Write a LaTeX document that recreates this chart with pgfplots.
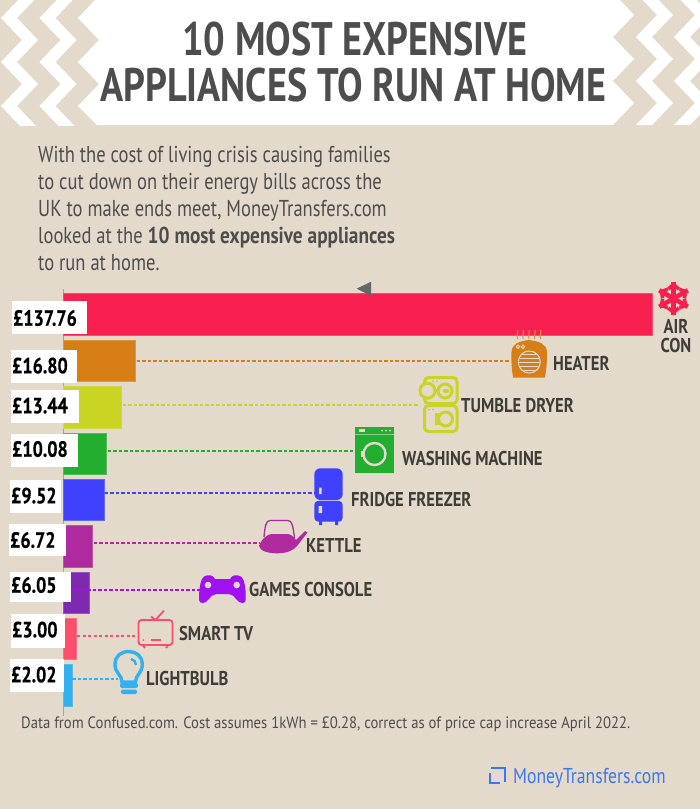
\documentclass[border=0pt]{standalone}
\usepackage{pgfplots}
\pgfplotsset{compat=1.18}
\usepackage{fontspec}
\setmainfont{PT Sans}[FakeStretch=0.82]
\newfontfamily\titlefont{PT Sans}[FakeStretch=0.812]
\newfontfamily\bodyfont{PT Sans}[FakeStretch=0.806,BoldFeatures={FakeStretch=0.84}]
\newfontfamily\footfont{PT Sans}[FakeStretch=0.891]
\newfontfamily\labfont{PT Sans}[FakeStretch=0.83]
\newfontfamily\valfont{PT Sans Bold}[FakeStretch=0.82,FakeBold=0.5]
\definecolor{bg}{HTML}{E3DACB}
\definecolor{head}{HTML}{4D4D4D}
\definecolor{lab}{HTML}{3F3D38}
\definecolor{cair}{HTML}{F9204F}
\definecolor{chea}{HTML}{D67F17}
\definecolor{ctum}{HTML}{CAD424}
\definecolor{cwas}{HTML}{24AE30}
\definecolor{cfri}{HTML}{4040FF}
\definecolor{cket}{HTML}{AE2A9E}
\definecolor{cgam}{HTML}{7F2AAE}
\definecolor{cgad}{HTML}{A010F0}
\definecolor{ctv}{HTML}{FF4D6E}
\definecolor{cbul}{HTML}{33B0F0}
\definecolor{clogo}{HTML}{3A78F2}
\newcommand{\tx}[4]{\node[anchor=base west,inner sep=0pt,text=#3] at (#1,#2) {#4};}
\newcommand{\lb}[3]{\node[anchor=base west,inner sep=0pt,text=lab,font=\labfont\fontsize{20}{20}\selectfont\bfseries] at (#1,#2) {#3};}
\newcommand{\val}[7]{\fill[white] (#1,#3) rectangle (#2,#4);
 \node[anchor=base west,inner sep=0pt,text=black,font=\valfont\fontsize{22}{22}\selectfont] at (#5,#6) {#7};}
\pgfplotsset{barstyle/.style={xbar,bar width=41.5pt,bar shift=0pt,fill=#1,draw=#1!75!bg,line width=0.7pt,forget plot},
 dashstyle/.style={#1,line width=1.7pt,dash pattern=on 3.3pt off 2.2pt,forget plot}}
\begin{document}
\begin{tikzpicture}
\path[use as bounding box] (0pt,0pt) rectangle (700pt,-809pt);
\begin{scope}[x=1pt,y=-1pt]
\fill[bg] (0,0) rectangle (700,809);
\begin{scope}
\clip (0,0) rectangle (700,125);
% central white
\fill[white] (95,0) -- (78,18) -- (99,40) -- (78,62) -- (99,84) -- (78,106) -- (97,125)
  -- (613,125) -- (634,103) -- (613,81) -- (634,59) -- (613,37) -- (634,15) -- (620,0) -- cycle;
% left stripes
\foreach \d in {0,38.5}{
 \fill[white,shift={(\d,0)}] (22,-4) -- (1,18) -- (22,40) -- (1,62) -- (22,84) -- (1,106) -- (22,128)
   -- (38,128) -- (17,106) -- (38,84) -- (17,62) -- (38,40) -- (17,18) -- (38,-4) -- cycle;
}
% right stripes
\foreach \d in {0,38}{
 \fill[white,shift={(\d,0)}] (636,-7) -- (657,15) -- (636,37) -- (657,59) -- (636,81) -- (657,103) -- (636,125) -- (652,125) -- (673,103) -- (652,81) -- (673,59) -- (652,37) -- (673,15) -- (652,-7) -- cycle;
}
\end{scope}
\end{scope}
\begin{axis}[at={(0pt,0pt)},anchor=north west,scale only axis,width=700pt,height=809pt,hide axis,clip=false,
  xmin=-14.865,xmax=148.99,ymin=0,ymax=809,y dir=reverse]
\addplot[color=black!25!bg,line width=0.8pt,forget plot] coordinates {(0,289) (0,716)};
\addplot[barstyle=cair] coordinates {(137.76,314.5)};
\addplot[barstyle=chea] coordinates {(16.80,361)};
\addplot[barstyle=ctum] coordinates {(13.44,407.2)};
\addplot[barstyle=cwas] coordinates {(10.08,453.6)};
\addplot[barstyle=cfri] coordinates {(9.52,499.8)};
\addplot[barstyle=cket] coordinates {(6.72,546.3)};
\addplot[barstyle=cgam] coordinates {(6.05,592.7)};
\addplot[barstyle=ctv] coordinates {(3.00,639)};
\addplot[barstyle=cbul] coordinates {(2.02,685.5)};
\addplot[dashstyle=chea] coordinates {(17.2,361) (104.7,361)};
\addplot[dashstyle=ctum] coordinates {(13.9,405) (83.4,405)};
\addplot[dashstyle=cwas] coordinates {(10.4,451) (68.5,451)};
\addplot[dashstyle=cfri] coordinates {(9.7,492.7) (58.9,492.7)};
\addplot[dashstyle=cket] coordinates {(7.1,542.7) (45.75,542.7)};
\addplot[dashstyle=cgad] coordinates {(1.75,590) (31.95,590)};
\addplot[dashstyle=ctv] coordinates {(3.16,636) (17.2,636)};
\addplot[dashstyle=cbul] coordinates {(2.1,679) (12.76,679)};
\end{axis}
\begin{scope}[x=1pt,y=-1pt]
% title
\node[anchor=base,inner sep=0pt,text=head,font=\titlefont\fontsize{47}{47}\selectfont\bfseries] at (355,55) {10 MOST EXPENSIVE};
\node[anchor=base,inner sep=0pt,text=head,font=\titlefont\fontsize{47}{47}\selectfont\bfseries] at (353.5,101.5) {APPLIANCES TO RUN AT HOME};
% intro
\begin{scope}[font=\bodyfont\fontsize{23}{23}\selectfont]
\tx{38}{162}{head}{With the cost of living crisis causing families}
\tx{38}{189}{head}{to cut down on their energy bills across the}
\tx{38}{216}{head}{UK to make ends meet, MoneyTransfers.com}
\tx{38}{243}{head}{looked at the \textbf{10 most expensive appliances}}
\tx{38}{270}{head}{to run at home.}
\end{scope}
% triangle
\fill[black!60] (356.7,288.7) -- (371,281.7) -- (371,295.7) -- cycle;
% value boxes
\val{12}{86.5}{301}{334}{13}{325.7}{£137.76}
\val{11}{77.3}{350}{382.7}{12}{373.3}{£16.80}
\val{11}{79.3}{390}{423}{12}{413.3}{£13.44}
\val{11}{78.3}{434}{467}{12}{456.7}{£10.08}
\val{10}{61}{480}{513}{11}{503.3}{£9.52}
\val{9}{65.7}{524}{555.7}{10}{547.7}{£6.72}
\val{10}{70.7}{572}{601.7}{11}{592.7}{£6.05}
\val{11}{65}{614}{647.7}{12}{637.3}{£3.00}
\val{10}{64}{659}{692}{11}{682.3}{£2.02}
% category labels
\node[anchor=base,inner sep=0pt,text=lab,font=\labfont\fontsize{20}{20}\selectfont\bfseries] at (676,333.5) {AIR};
\node[anchor=base,inner sep=0pt,text=lab,font=\labfont\fontsize{20}{20}\selectfont\bfseries] at (676,352) {CON};
\lb{553}{370}{HEATER}
\lb{461}{412.7}{TUMBLE DRYER}
\lb{402}{465}{WASHING MACHINE}
\lb{351}{506.7}{FRIDGE FREEZER}
\lb{306}{552.7}{KETTLE}
\lb{249}{596.7}{GAMES CONSOLE}
\lb{179}{640.7}{SMART TV}
\lb{146}{685.7}{LIGHTBULB}
% footer
\begin{scope}[font=\footfont\fontsize{16.5}{16.5}\selectfont]
\tx{21}{728}{head}{Data from Confused.com. Cost assumes 1kWh = £0.28, correct as of price cap increase April 2022.}
\end{scope}
\begin{scope}[font=\fontsize{21.5}{21.5}\selectfont]
\tx{513}{783.5}{clogo}{MoneyTransfers.com}
\end{scope}
\draw[clogo,line width=2.2pt] (491,768) -- (505,768) -- (505,782);
\draw[clogo,line width=2.2pt] (490,773) -- (490,783) -- (500,783);
% snowflake
\begin{scope}[shift={(673.5,298.5)},cair,line width=4.6pt]
\foreach \a in {30,90,150,210,270,330}{
 \draw[rotate=\a] (0,0) -- (16.5,0);
 \draw[rotate=\a,line width=3.6pt] (9.5,-5.2) -- (13.5,-0.5) -- (13.5,0.5) -- (9.5,5.2);
}
\end{scope}
% heater
\foreach \x in {517.5,523.2,529,534.8,540.5}{
 \draw[chea!80!bg,line width=1pt] (\x,330) .. controls (\x+1.2,332) and (\x-1.2,335) .. (\x,339);
}
\fill[chea] (513,377.7) .. controls (512,370) and (511,362) .. (511.5,352) .. controls (512,344) and (518,341.5) .. (529,340) .. controls (540,341.5) and (546.5,344) .. (547,352) .. controls (547.5,362) and (546,370) .. (545,377.7) -- cycle;
\draw[bg,line width=1pt] (529.3,362) circle (11);
\begin{scope}
\clip (529.3,362) circle (10.5);
\foreach \y in {354,358,362,366,370}{\draw[bg,line width=1pt] (515,\y) -- (545,\y);}
\end{scope}
\draw[bg,line width=0.9pt] (518,346.7) circle (1.7) (523,346.7) circle (1.7);
% tumble dryer
\begin{scope}[ctum,line width=3pt]
\draw[rounded corners=4pt] (424.5,377.5) rectangle (457,403.5);
\draw[rounded corners=4pt] (424.5,405.5) rectangle (457,431.5);
\fill[bg] (427.5,390.7) circle (7.5);
\draw (427.5,390.7) circle (7.5);
\draw (445,391) circle (7);
\fill (446,391) ellipse (3.5 and 2);
\draw (436,390.7) -- (438,390.7);
\draw (445.5,419) circle (7);
\fill (435,413) rectangle (439,425);
\fill (429,409.5) circle (1) (433,409.5) circle (1) (433,381) circle (1) (437,381) circle (1);
\end{scope}
% washing machine
\fill[cwas] (355.3,427) rectangle (394.3,472.7);
\draw[bg!60!cwas,line width=1pt] (355.3,434.5) -- (394.3,434.5);
\fill[bg] (358.5,429) rectangle (365,432.2);
\fill[bg] (382,430.6) circle (0.9) (386,430.6) circle (0.9) (390,430.6) circle (0.9);
\draw[bg,line width=2.4pt] (374.5,454) circle (11);
\fill[bg] (361,451) rectangle (364,457);
% fridge
\fill[cfri,rounded corners=6pt] (314.3,500) -- (314.3,468.3) -- (342.7,468.3) -- (342.7,500) -- cycle;
\fill[cfri,rounded corners=4pt] (314.3,500.8) -- (342.7,500.8) -- (342.7,521.7) -- (314.3,521.7) -- cycle;
\fill[cfri] (319,520) rectangle (322,525) (335,520) rectangle (338,525);
\fill[bg] (319,487.5) rectangle (321.5,494) (318.7,506) rectangle (322,513);
% kettle
\draw[cket,line width=1.3pt] (264,537) .. controls (265,526) and (266,520.5) .. (270,520.5) -- (288,520.5) .. controls (292,520.5) and (293,526) .. (294.5,538);
\fill[cket] (259,546) .. controls (262,538) and (268,534) .. (272,534) -- (287,534) .. controls (291,534) and (294,537) .. (296,540) -- (305,531) -- (307.5,532.5) -- (297,546) .. controls (293,551) and (286,553.3) .. (277,553.3) .. controls (268,553.3) and (260,551) .. (259,546) -- cycle;
% games console
\fill[cgad] (199,600) .. controls (199,590) and (200,578) .. (205,576) .. controls (209,574.5) and (213,575) .. (215,579) -- (230,579) .. controls (232,575) and (236,574.5) .. (240,576) .. controls (245,578) and (246,590) .. (245.7,600) .. controls (245.5,604) and (240,604.5) .. (236,599) .. controls (233,595) and (231,594) .. (228,594) -- (217,594) .. controls (214,594) and (212,595) .. (209,599) .. controls (205,604.5) and (199.5,604) .. (199,600) -- cycle;
\fill[bg] (208,585) circle (3.3) (236.7,585) circle (3.3);
% tv
\draw[ctv,line width=1.8pt,rounded corners=3pt] (138.5,620) rectangle (172.5,645);
\draw[ctv,line width=1.8pt] (151,616.5) -- (155.5,620) -- (164,610.5);
\draw[ctv,line width=1.8pt] (143,645.5) -- (145,648) (168,645.5) -- (166,648);
\draw[ctv,line width=1.8pt] (151,640) -- (161,640);
\fill[ctv] (143.5,640) circle (1);
% bulb
\draw[cbul,line width=3.4pt] (122,682) .. controls (122,675) and (115,673) .. (115,664.5) .. controls (115,656) and (121,651.5) .. (128.7,651.5) .. controls (136,651.5) and (142.3,656) .. (142.3,664.5) .. controls (142.3,673) and (135.5,675) .. (135.5,682) -- cycle;
\draw[cbul,line width=2.4pt] (131,659) .. controls (134,659.5) and (136,662) .. (136,665);
\fill[cbul,rounded corners=2pt] (120,683) rectangle (138,688);
\fill[cbul,rounded corners=2pt] (121,689.5) rectangle (137,694);
\end{scope}
\end{tikzpicture}
\end{document}
